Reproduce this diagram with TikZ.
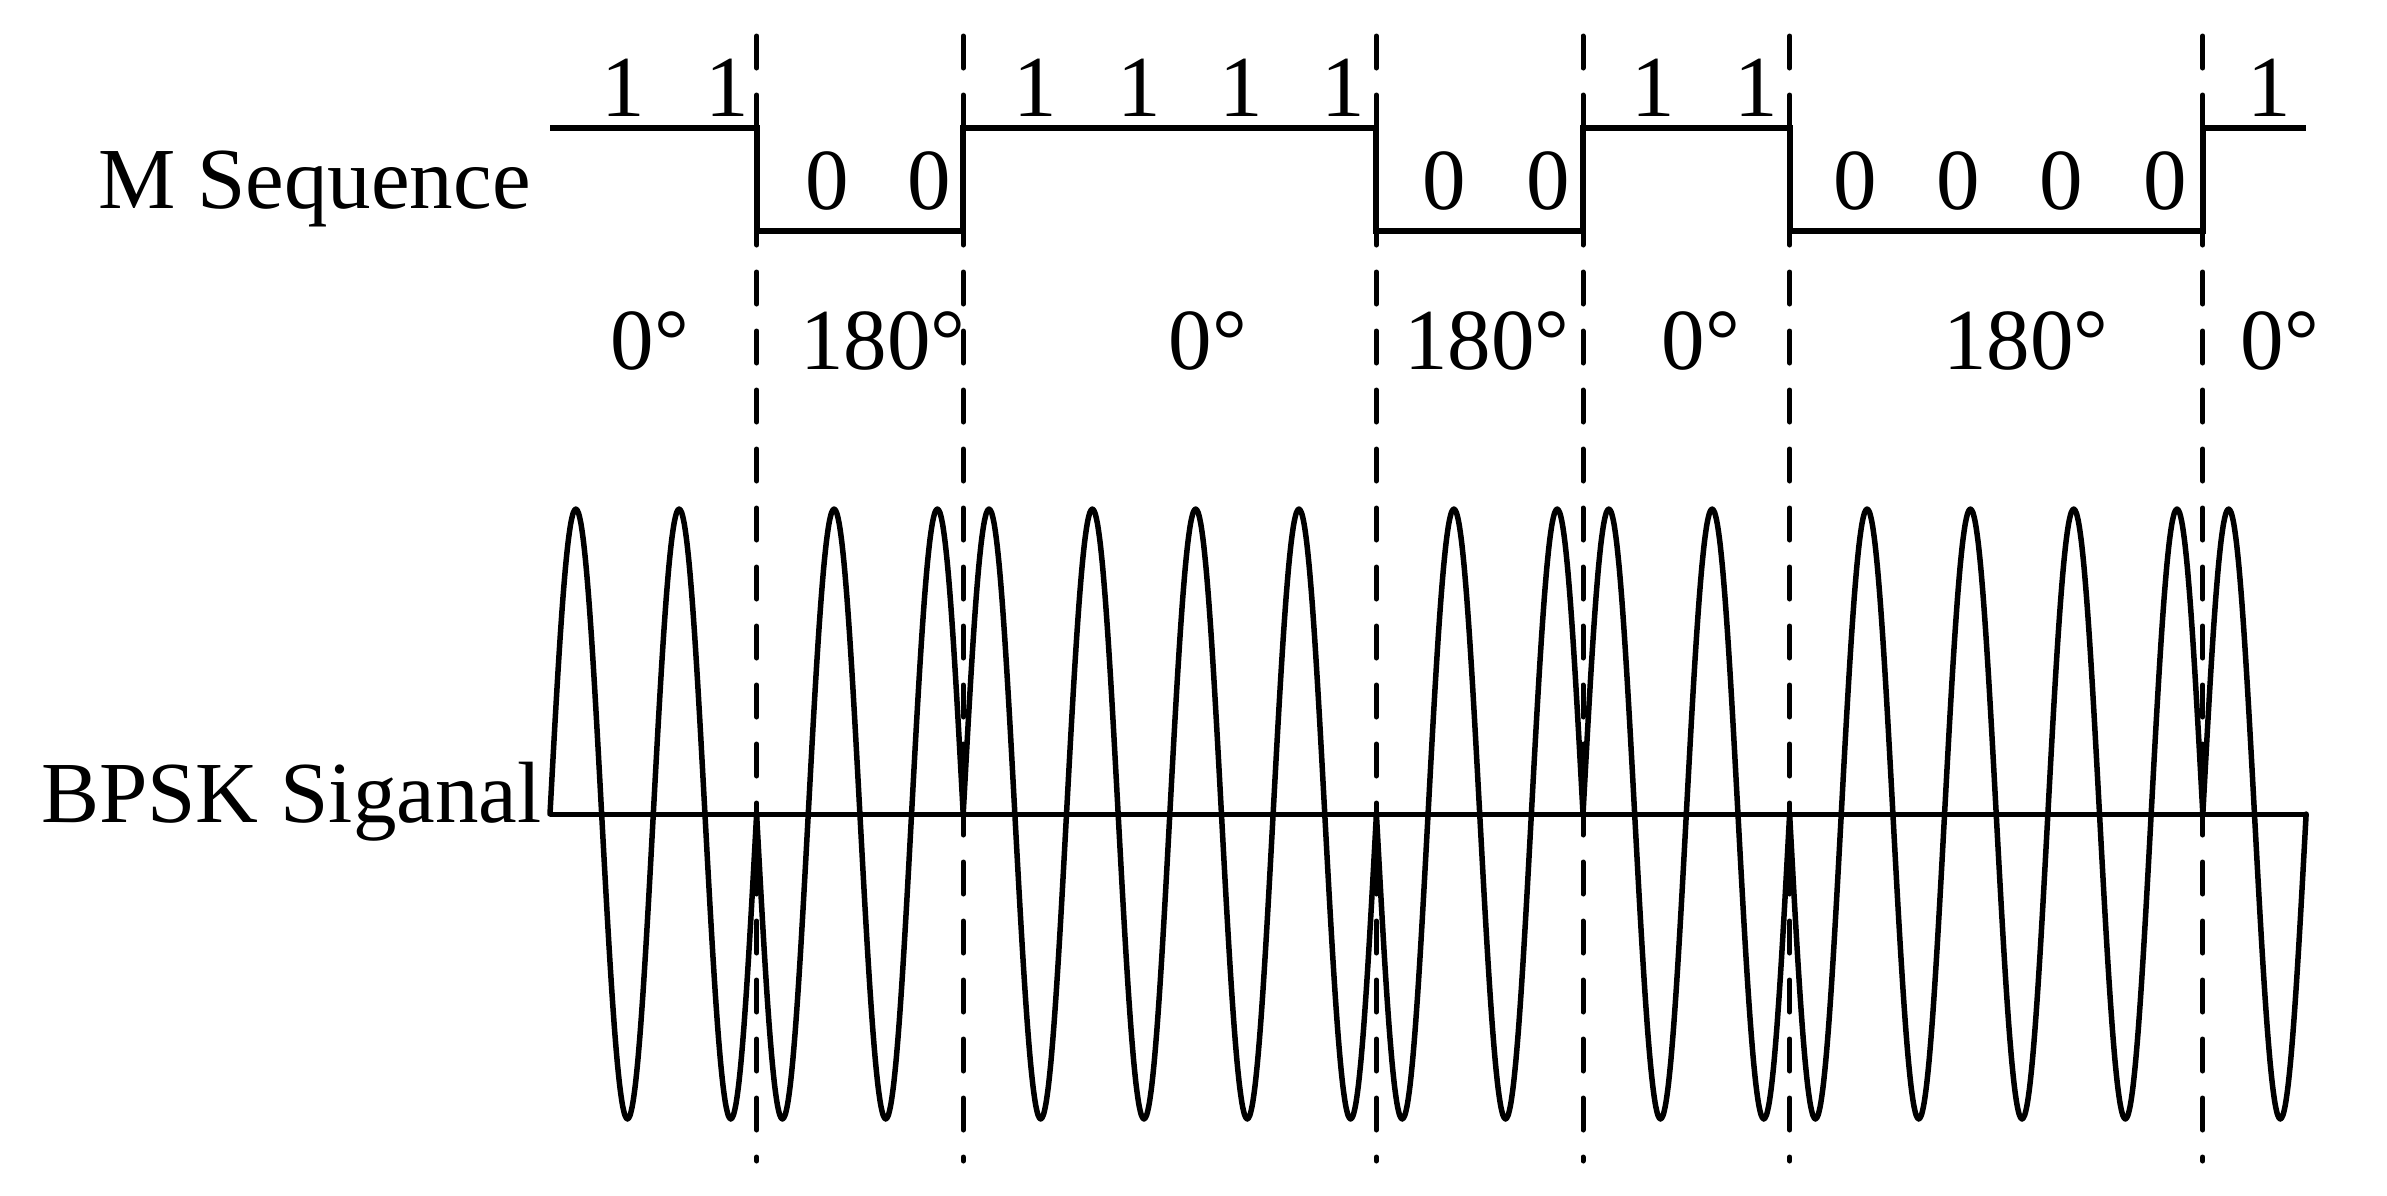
\documentclass[tikz,border=0pt]{standalone}
\usepackage{fontspec}
\setmainfont{Liberation Serif}
\begin{document}
\begin{tikzpicture}[x=1pt,y=-1pt,
  lbl/.style={inner sep=0pt, font=\fontsize{87}{87}\selectfont, anchor=base},
  mseq/.style={line width=6pt, line join=miter},
  wave/.style={line width=5.5pt, line cap=round, line join=round},
  axisline/.style={line width=5pt},
  divider/.style={line width=5pt, line cap=round, dash pattern=on 32pt off 27pt}]
\useasboundingbox (0,0) rectangle (2387,1195);
% transition dividers
\foreach \k in {2,4,8,10,12,16}{
  \pgfmathsetmacro\xx{550+\k*103.3}
  \coordinate (d\k a) at (\xx,36);
  \coordinate (d\k b) at (\xx,1161);
  \draw[divider] (d\k a) -- (d\k b);
}
% M sequence
\draw[mseq] (550,128) -- (756.6,128) -- (756.6,231) -- (963.2,231) -- (963.2,128)
  -- (1376.4,128) -- (1376.4,231) -- (1583,231) -- (1583,128) -- (1789.6,128)
  -- (1789.6,231) -- (2202.8,231) -- (2202.8,128) -- (2306,128);
% BPSK axis
\coordinate (axl) at (550,814);
\coordinate (axr) at (2306,814);
\draw[axisline] (axl) -- (axr);
% BPSK wave
\foreach \a/\b/\s in {0/2/1, 2/4/-1, 4/8/1, 8/10/-1, 10/12/1, 12/16/-1, 16/17/1}{
  \pgfmathsetmacro\da{550+\a*103.3}
  \pgfmathsetmacro\db{550+\b*103.3}
  \pgfmathtruncatemacro\ns{40*(\b-\a)+1}
  \draw[wave] plot[domain=\da:\db, samples=\ns, smooth] (\x, {814-\s*305*sin((\x-550)*3.48499)});
}
% labels
\node[lbl, anchor=base west] (mseqlbl) at (98,208) {M Sequence};
\node[lbl, anchor=base west] (bpsklbl) at (41,822) {BPSK Siganal};
\foreach \p [count=\i] in {623,727,1035,1139,1241,1343,1653,1756,2269}
  \node[lbl] (one\i) at (\p,116) {1};
\foreach \p [count=\i] in {827,929,1444,1548,1855,1958,2061,2165}
  \node[lbl] (zero\i) at (\p,209) {0};
\foreach \p/\t [count=\i] in {650/0°,883/180°,1208/0°,1487/180°,1701/0°,2026/180°,2280/0°}
  \node[lbl] (ph\i) at (\p,369) {\t};
\end{tikzpicture}
\end{document}
